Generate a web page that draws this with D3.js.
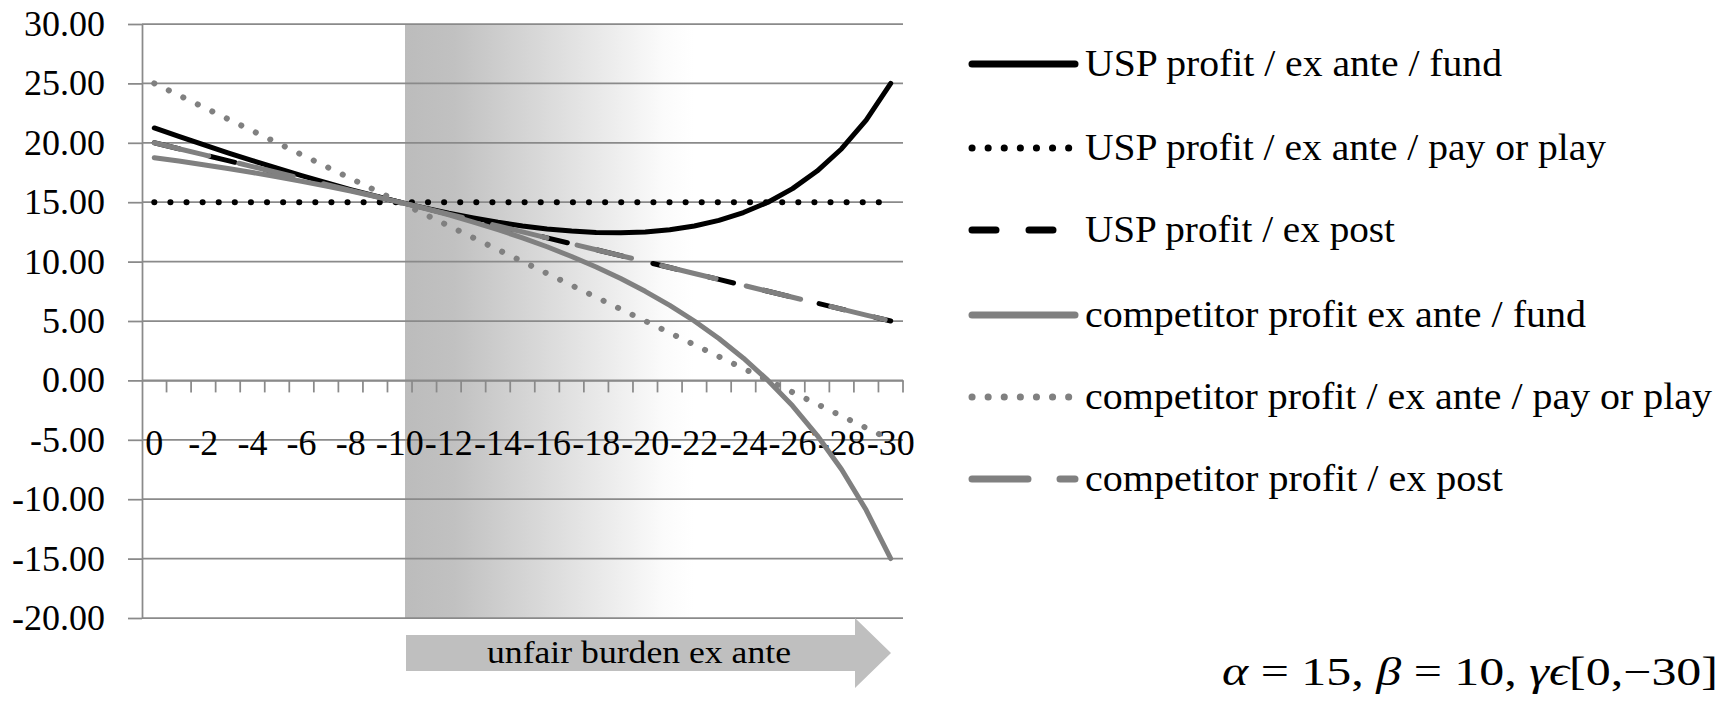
<!DOCTYPE html>
<html>
<head>
<meta charset="utf-8">
<script src="https://cdn.jsdelivr.net/npm/d3@7"></script>
<style>
  body { margin: 0; background: #fff; }
  text { font-family: "Liberation Serif", serif; fill: #000; }
</style>
</head>
<body>
<div id="chart"></div>
<script>
var width = 1731,
    height = 702;

// gamma categories (x axis)
var gamma = [0, -1, -2, -3, -4, -5, -6, -7, -8, -9, -10, -11, -12, -13, -14, -15,
  -16, -17, -18, -19, -20, -21, -22, -23, -24, -25, -26, -27, -28, -29, -30];

var uspFund = [21.25, 20.54, 19.84, 19.16, 18.50, 17.86, 17.24, 16.64, 16.06, 15.52, 15.00,
  14.52, 14.07, 13.67, 13.31, 13.00, 12.75, 12.57, 12.45, 12.43, 12.50,
  12.68, 13.00, 13.47, 14.13, 15.00, 16.14, 17.62, 19.50, 21.91, 25.00];
var uspPayOrPlay = [15, 15, 15, 15, 15, 15, 15, 15, 15, 15, 15, 15, 15, 15, 15, 15,
  15, 15, 15, 15, 15, 15, 15, 15, 15, 15, 15, 15, 15, 15, 15];
var uspExPost = [20, 19.5, 19, 18.5, 18, 17.5, 17, 16.5, 16, 15.5, 15, 14.5, 14, 13.5, 13, 12.5,
  12, 11.5, 11, 10.5, 10, 9.5, 9, 8.5, 8, 7.5, 7, 6.5, 6, 5.5, 5];
var compFund = [18.75, 18.46, 18.16, 17.84, 17.50, 17.14, 16.76, 16.36, 15.94, 15.48, 15.00,
  14.48, 13.93, 13.33, 12.69, 12.00, 11.25, 10.43, 9.55, 8.57, 7.50,
  6.32, 5.00, 3.53, 1.87, 0.00, -2.14, -4.62, -7.50, -10.91, -15.00];
var compPayOrPlay = [25, 24, 23, 22, 21, 20, 19, 18, 17, 16, 15, 14, 13, 12, 11, 10,
  9, 8, 7, 6, 5, 4, 3, 2, 1, 0, -1, -2, -3, -4, -5];
var compExPost = [20, 19.5, 19, 18.5, 18, 17.5, 17, 16.5, 16, 15.5, 15, 14.5, 14, 13.5, 13, 12.5,
  12, 11.5, 11, 10.5, 10, 9.5, 9, 8.5, 8, 7.5, 7, 6.5, 6, 5.5, 5];

var yTicks = [-20, -15, -10, -5, 0, 5, 10, 15, 20, 25, 30];

var seriesNames = [
  "USP profit / ex ante / fund",
  "USP profit / ex ante / pay or play",
  "USP profit / ex post",
  "competitor profit ex ante / fund",
  "competitor profit / ex ante / pay or play",
  "competitor profit / ex post"
];
var seriesValues = [uspFund, uspPayOrPlay, uspExPost, compFund, compPayOrPlay, compExPost];

// styles per series
var styles = [
  {color: "#000", dash: null, w: 5},
  {color: "#000", dash: "0.1,16", w: 6},
  {color: "#000", dash: "26,31", w: 5},
  {color: "#808080", dash: null, w: 5},
  {color: "#808080", dash: "0.1,16", w: 6},
  {color: "#808080", dash: "56,31", w: 5}
];
var legendWidths = [417, 521, 310, 501, 627, 418];

var plotL = 142, plotR = 903, plotT = 24, plotB = 618;

var x = d3.scaleBand().domain(gamma).range([plotL, plotR]).padding(0);
var y = d3.scaleLinear().domain([-20, 30]).range([plotB, plotT]);

var svg = d3.select('#chart').append('svg')
  .attr('width', width)
  .attr('height', height);

svg.append('rect').attr('width', width).attr('height', height).attr('fill', '#fff');

var defs = svg.append('defs');
var grad = defs.append('linearGradient').attr('id', 'shade')
  .attr('x1', '0%').attr('x2', '100%').attr('y1', '0%').attr('y2', '0%');
grad.append('stop').attr('offset', '0%').attr('stop-color', '#bcbcbc');
grad.append('stop').attr('offset', '10%').attr('stop-color', '#c1c1c1');
grad.append('stop').attr('offset', '52%').attr('stop-color', '#fbfbfb');
grad.append('stop').attr('offset', '58%').attr('stop-color', '#ffffff');
grad.append('stop').attr('offset', '100%').attr('stop-color', '#ffffff');

// shaded "unfair burden" region
svg.append('rect')
  .attr('x', 405).attr('y', plotT)
  .attr('width', plotR - 405).attr('height', plotB - plotT)
  .attr('fill', 'url(#shade)');

// horizontal gridlines
svg.append('g').selectAll('line')
  .data(yTicks).enter()
  .append('line')
  .attr('x1', plotL).attr('x2', plotR)
  .attr('y1', function(d) { return y(d); })
  .attr('y2', function(d) { return y(d); })
  .attr('stroke', '#8a8a8a')
  .attr('stroke-width', 1.75);

// y axis
var fmt = d3.format('.2f');
var yAxis = svg.append('g')
  .attr('transform', 'translate(' + plotL + ',0)')
  .call(d3.axisLeft(y).tickValues(yTicks)
    .tickFormat(function(d) { return fmt(d).replace('−', '-'); })
    .tickSizeInner(14).tickSizeOuter(0).tickPadding(23));
yAxis.selectAll('path, line').attr('stroke', '#8a8a8a').attr('stroke-width', 1.75);
yAxis.selectAll('text').style('font-size', '36px').style('font-family', '"Liberation Serif", serif');

// x axis at y = 0
var xAxis = svg.append('g')
  .attr('transform', 'translate(0,' + y(0) + ')')
  .call(d3.axisBottom(x).tickSize(0).tickPadding(49)
    .tickFormat(function(d) { return d % 2 === 0 ? String(d) : ''; }));
xAxis.select('.domain').attr('stroke', '#8a8a8a').attr('stroke-width', 1.75);
xAxis.selectAll('text').style('font-size', '36px').style('font-family', '"Liberation Serif", serif');

// category boundary ticks
svg.append('g').selectAll('line')
  .data(gamma).enter()
  .append('line')
  .attr('x1', function(d) { return x(d) + x.bandwidth(); })
  .attr('x2', function(d) { return x(d) + x.bandwidth(); })
  .attr('y1', y(0)).attr('y2', y(0) + 12)
  .attr('stroke', '#8a8a8a').attr('stroke-width', 1.75);

// series lines
var line = d3.line()
  .x(function(d, i) { return x(gamma[i]) + x.bandwidth() / 2; })
  .y(function(d) { return y(d); });

seriesValues.forEach(function(vals, k) {
  var s = styles[k];
  svg.append('path')
    .attr('d', line(vals))
    .attr('fill', 'none')
    .attr('stroke', s.color)
    .attr('stroke-width', s.w)
    .attr('stroke-linecap', 'round')
    .attr('stroke-linejoin', 'round')
    .attr('stroke-dasharray', s.dash);
});

// legend
var legend = svg.append('g');
var rowsY = [64, 148, 230, 315, 397, 479];
seriesNames.forEach(function(name, k) {
  var s = styles[k];
  var ldash = s.dash;
  if (k === 2) ldash = "24,33";
  if (k === 5) ldash = "56,32";
  legend.append('line')
    .attr('x1', 972).attr('x2', 1075)
    .attr('y1', rowsY[k]).attr('y2', rowsY[k])
    .attr('stroke', s.color)
    .attr('stroke-width', 7)
    .attr('stroke-linecap', 'round')
    .attr('stroke-dasharray', ldash);
  legend.append('text')
    .attr('x', 1085).attr('y', rowsY[k] + 12)
    .attr('textLength', legendWidths[k])
    .attr('lengthAdjust', 'spacingAndGlyphs')
    .style('font-size', '37px')
    .text(name);
});

// arrow annotation
svg.append('path')
  .attr('d', 'M406,635 L855,635 L855,618 L891,653 L855,688 L855,671 L406,671 Z')
  .attr('fill', '#bfbfbf');
svg.append('text')
  .attr('x', 639).attr('y', 663)
  .attr('text-anchor', 'middle')
  .attr('textLength', 304)
  .attr('lengthAdjust', 'spacingAndGlyphs')
  .style('font-size', '31px')
  .text('unfair burden ex ante');

// parameter note
var note = svg.append('text')
  .attr('x', 1222).attr('y', 685)
  .attr('textLength', 496)
  .attr('lengthAdjust', 'spacingAndGlyphs')
  .style('font-size', '40px')
  .style('font-family', '"Liberation Serif", "DejaVu Serif", serif');
note.append('tspan').style('font-style', 'italic').text('α');
note.append('tspan').text(' = 15, ');
note.append('tspan').style('font-style', 'italic').text('β');
note.append('tspan').text(' = 10, ');
note.append('tspan').style('font-style', 'italic').text('γϵ');
note.append('tspan').text('[0,−30]');
</script>
</body>
</html>
